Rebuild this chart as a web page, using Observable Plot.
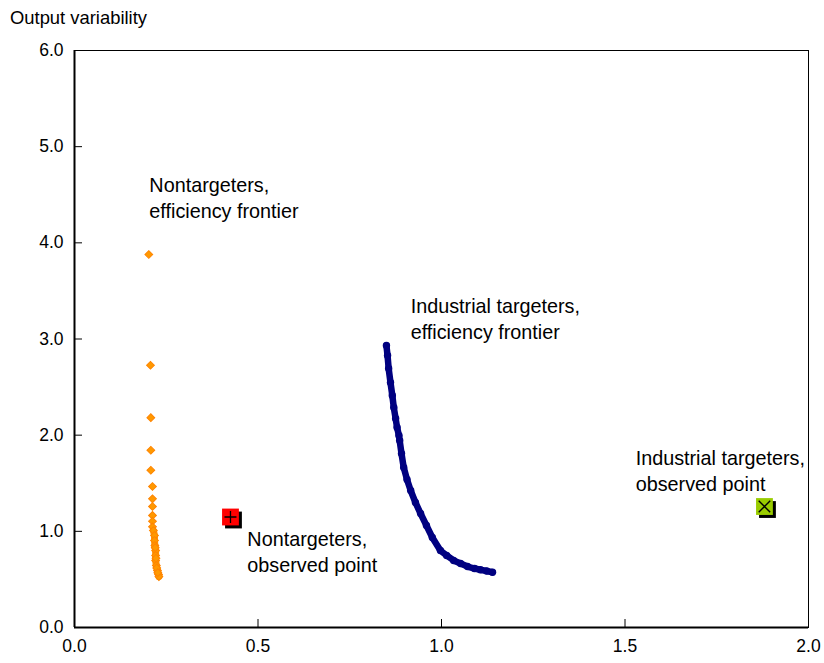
<!DOCTYPE html>
<html>
<head>
<meta charset="utf-8">
<script src="https://cdn.jsdelivr.net/npm/d3@7"></script>
<script src="https://cdn.jsdelivr.net/npm/@observablehq/plot@0.6"></script>
<style>
  body { margin: 0; background: #fff; font-family: "Liberation Sans", Arial, sans-serif; }
  #title { height: 30px; line-height: 36px; padding-left: 10px; font-size: 18.4px; color: #000; }
  svg { display: block; }
</style>
</head>
<body>
<div id="title">Output variability</div>
<div id="chart"></div>
<script>
// Nontargeters efficiency frontier (inflation variability, output variability)
const nonX = [0.2025, 0.207, 0.208, 0.208, 0.208, 0.2125, 0.2125, 0.2125, 0.2125, 0.2125, 0.2125, 0.215,
  0.218, 0.218, 0.219, 0.221, 0.221, 0.221, 0.223, 0.226, 0.229, 0.230, 0.220, 0.222, 0.224, 0.227];
const nonY = [3.879, 2.727, 2.182, 1.843, 1.635, 1.466, 1.338, 1.258, 1.165, 1.105, 1.047, 1.009,
  0.957, 0.905, 0.853, 0.800, 0.749, 0.697, 0.645, 0.593, 0.551, 0.530, 0.830, 0.720, 0.620, 0.570];

// Industrial targeters efficiency frontier
const indX = [0.850, 0.853, 0.856, 0.861, 0.866, 0.870, 0.875, 0.879, 0.884, 0.886, 0.891, 0.897,
  0.906, 0.916, 0.929, 0.943, 0.959, 0.975, 0.997, 1.014, 1.033, 1.052, 1.071, 1.090, 1.106, 1.123, 1.139];
const indY = [2.932, 2.828, 2.693, 2.548, 2.413, 2.288, 2.173, 2.080, 1.997, 1.944, 1.809, 1.664,
  1.539, 1.425, 1.300, 1.185, 1.061, 0.936, 0.801, 0.749, 0.697, 0.665, 0.634, 0.613, 0.600, 0.588, 0.575];

// Observed points
const obsNames = ["Nontargeters", "Industrial targeters"];
const obsX = [0.425, 1.880];
const obsY = [1.149, 1.258];

// Annotations
const labelText = ["Nontargeters,\nefficiency frontier", "Industrial targeters,\nefficiency frontier",
  "Nontargeters,\nobserved point", "Industrial targeters,\nobserved point"];
const labelX = [0.204, 0.916, 0.471, 1.529];
const labelY = [4.482, 3.218, 0.795, 1.638];

// Axis ticks
const xTicks = [0, 0.5, 1.0, 1.5, 2.0];
const yTicks = [0, 1, 2, 3, 4, 5, 6];

const nonData = nonX.map((x, i) => ({x, y: nonY[i]}));
const indData = indX.map((x, i) => ({x, y: indY[i]}));
const obsData = obsNames.map((n, i) => ({name: n, x: obsX[i], y: obsY[i]}));
const labData = labelText.map((t, i) => ({t, x: labelX[i], y: labelY[i]}));
const nonLine = nonData.slice(11, 22);

// thin stroke glyphs for the observed-point markers
const thinPlus = {draw(ctx, size) { const r = Math.sqrt(size / Math.PI);
  ctx.moveTo(-r, 0); ctx.lineTo(r, 0); ctx.moveTo(0, -r); ctx.lineTo(0, r); }};
const thinTimes = {draw(ctx, size) { const r = Math.sqrt(size / Math.PI) * 0.72;
  ctx.moveTo(-r, -r); ctx.lineTo(r, r); ctx.moveTo(r, -r); ctx.lineTo(-r, r); }};

const chart = Plot.plot({
  width: 824,
  height: 633,
  marginTop: 20,
  marginBottom: 36,
  marginLeft: 74,
  marginRight: 16,
  style: {fontFamily: "Liberation Sans, Arial, sans-serif", fontSize: "17px", color: "#000", background: "#fff"},
  x: {domain: [0, 2], ticks: xTicks, tickFormat: d => d.toFixed(1)},
  y: {domain: [0, 6], ticks: yTicks, tickFormat: d => d.toFixed(1)},
  marks: [
    Plot.frame({stroke: "#000", strokeWidth: 1}),
    Plot.axisX({ticks: xTicks.slice(1, -1), tickSize: -8, text: null, label: null}),
    Plot.axisX({ticks: xTicks, tickSize: 0, tickPadding: 12, tickFormat: d => d.toFixed(1), label: null, fontSize: 17.5}),
    Plot.axisY({ticks: yTicks.slice(1, -1), tickSize: -8, text: null, label: null}),
    Plot.axisY({ticks: yTicks, tickSize: 0, tickPadding: 11, tickFormat: d => d.toFixed(1), label: null, fontSize: 17.5}),
    Plot.ruleX([0], {stroke: "#000", strokeWidth: 2}),
    Plot.ruleY([0], {stroke: "#000", strokeWidth: 2}),
    // nontargeters frontier
    Plot.line(nonLine, {x: "x", y: "y", stroke: "#FF9900", strokeWidth: 7, strokeLinecap: "round"}),
    Plot.dot(nonData, {x: "x", y: "y", symbol: "square", rotate: 45, r: 3.1, fill: "#FF9900", stroke: "#FF8400", strokeWidth: 1}),
    // industrial frontier
    Plot.line(indData, {x: "x", y: "y", stroke: "#000080", strokeWidth: 6.5, strokeLinecap: "round", strokeLinejoin: "round"}),
    Plot.dot(indData, {x: "x", y: "y", r: 3.7, fill: "#000080"}),
    // observed points: shadow, square, glyph
    Plot.dot(obsData, {x: "x", y: "y", symbol: "square", r: 9.5, fill: "#000", dx: 3, dy: 3}),
    Plot.dot(obsData, {x: "x", y: "y", symbol: "square", r: 9.5, fill: d => d.name === "Nontargeters" ? "#FF0000" : "#99CC00"}),
    Plot.dot(obsData.filter(d => d.name === "Nontargeters"), {x: "x", y: "y", symbol: thinPlus, r: 6, fill: "none", stroke: "#000", strokeWidth: 1.3}),
    Plot.dot(obsData.filter(d => d.name !== "Nontargeters"), {x: "x", y: "y", symbol: thinTimes, r: 8, fill: "none", stroke: "#000", strokeWidth: 1.4}),
    // labels
    Plot.text(labData, {x: "x", y: "y", text: "t", textAnchor: "start", lineAnchor: "middle", lineHeight: 1.32, fontSize: 19.8, fill: "#000"})
  ]
});
document.getElementById("chart").appendChild(chart);
</script>
</body>
</html>
